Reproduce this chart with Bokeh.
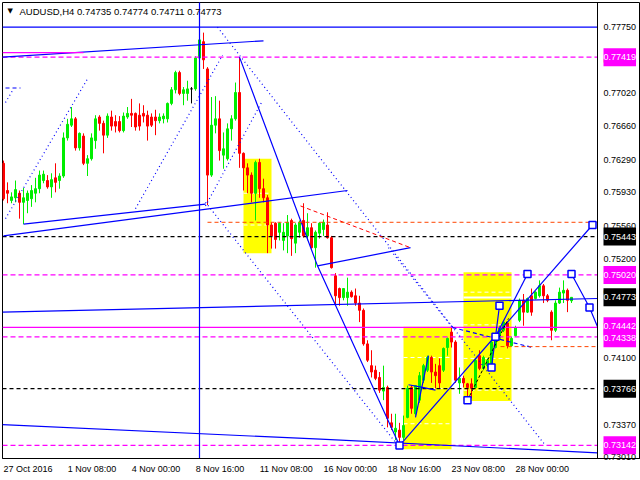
from bokeh.plotting import figure
from bokeh.models import Range1d, FixedTicker, NumeralTickFormatter, Span, Label
from bokeh.embed import file_html
from bokeh.resources import INLINE

# ---------------- data ----------------
open_ = [0.7625,0.7595,0.7584,0.7587,0.7592,0.7582,0.7584,0.7586,0.7592,0.7597,
         0.7606,0.7606,0.7599,0.7609,0.7606,0.7611,0.7653,0.7667,0.7674,0.7642,
         0.7655,0.7625,0.7630,0.7650,0.7676,0.7669,0.7656,0.7676,0.7671,0.7671,
         0.7661,0.7676,0.7680,0.7680,0.7678,0.7680,0.7678,0.7676,0.7676,0.7672,
         0.7674,0.7674,0.7691,0.7706,0.7725,0.7702,0.7702,0.7707,0.7707,0.7741,
         0.7759,0.7729,0.7612,0.7667,0.7674,0.7634,0.7630,0.7663,0.7674,0.7703,
         0.7636,0.7620,0.7612,0.7592,0.7626,0.7597,0.7587,0.7557,0.7559,0.7549,
         0.7540,0.7545,0.7562,0.7537,0.7549,0.7562,0.7545,0.7554,0.7532,0.7548,
         0.7552,0.7557,0.7543,0.7501,0.7487,0.7477,0.7477,0.7483,0.7479,0.7471,
         0.7463,0.7426,0.7402,0.7397,0.7389,0.7374,0.7378,0.7339,0.7329,0.7331,
         0.7323,0.7345,0.7378,0.7349,0.7364,0.7386,0.7397,0.7411,0.7395,0.7402,
         0.7397,0.7422,0.7439,0.7428,0.7383,0.7388,0.7382,0.7382,0.7378,0.7413,
         0.7399,0.7402,0.7403,0.7422,0.7432,0.7441,0.7449,0.7424,0.7435,0.7452,
         0.7474,0.7461,0.7479,0.7476,0.7479,0.7490,0.7479,0.7461,0.7441,0.7471,
         0.7482,0.7485,0.74735]
high = [0.7628,0.7604,0.7593,0.7606,0.7595,0.7598,0.7595,0.7601,0.7609,0.7617,
        0.7617,0.7612,0.7614,0.7625,0.7614,0.7659,0.7674,0.7687,0.7676,0.7659,
        0.7658,0.7634,0.7658,0.7678,0.7678,0.7672,0.7680,0.7683,0.7678,0.7677,
        0.7681,0.7687,0.7696,0.7681,0.7691,0.7689,0.7683,0.7680,0.7684,0.7680,
        0.7680,0.7692,0.7709,0.7727,0.7727,0.7709,0.7716,0.7709,0.7743,0.7763,
        0.7769,0.7731,0.7698,0.7699,0.7694,0.7659,0.7669,0.7678,0.7714,0.7742,
        0.7637,0.7625,0.7615,0.7628,0.7630,0.7608,0.7590,0.7560,0.7560,0.7560,
        0.7559,0.7568,0.7564,0.7559,0.7562,0.7581,0.7570,0.7559,0.7551,0.7560,
        0.7563,0.7571,0.7545,0.7504,0.7488,0.7487,0.7499,0.7485,0.7487,0.7479,
        0.7465,0.7430,0.7419,0.7402,0.7395,0.7402,0.7380,0.7349,0.7349,0.7339,
        0.7347,0.7380,0.7380,0.7380,0.7395,0.7404,0.7413,0.7413,0.7404,0.7410,
        0.7422,0.7433,0.7444,0.7430,0.7400,0.7391,0.7383,0.7388,0.7410,0.7419,
        0.7413,0.7410,0.7430,0.7437,0.7446,0.7452,0.7450,0.7434,0.7446,0.7476,
        0.7481,0.7477,0.7487,0.7484,0.7496,0.7492,0.7481,0.7463,0.7474,0.7488,
        0.7496,0.7487,0.74774]
low = [0.7584,0.7581,0.7581,0.7582,0.7564,0.7558,0.7570,0.7577,0.7582,0.7592,
       0.7603,0.7597,0.7587,0.7593,0.7597,0.7609,0.7650,0.7665,0.7639,0.7639,
       0.7623,0.7611,0.7628,0.7641,0.7661,0.7636,0.7653,0.7661,0.7659,0.7659,
       0.7659,0.7674,0.7665,0.7661,0.7661,0.7670,0.7650,0.7665,0.7656,0.7669,
       0.7669,0.7670,0.7689,0.7702,0.7700,0.7689,0.7694,0.7691,0.7705,0.7738,
       0.7729,0.7579,0.7610,0.7658,0.7628,0.7619,0.7628,0.7650,0.7672,0.7620,
       0.7595,0.7592,0.7582,0.7562,0.7587,0.7582,0.7526,0.7531,0.7531,0.7540,
       0.7529,0.7526,0.7523,0.7526,0.7543,0.7543,0.7540,0.7531,0.7510,0.7542,
       0.7545,0.7542,0.7509,0.7468,0.7468,0.7474,0.7468,0.7477,0.7468,0.7450,
       0.7424,0.7406,0.7389,0.7386,0.7372,0.7364,0.7334,0.7331,0.7320,0.7314,
       0.7320,0.7344,0.7349,0.7347,0.7361,0.7383,0.7395,0.7383,0.7377,0.7377,
       0.7395,0.7413,0.7422,0.7383,0.7371,0.7378,0.7364,0.7366,0.7377,0.7397,
       0.7397,0.7400,0.7400,0.7421,0.7430,0.7439,0.7421,0.7423,0.7434,0.7450,
       0.7446,0.7460,0.7457,0.7475,0.7477,0.7471,0.7472,0.7430,0.7439,0.7470,
       0.7471,0.7461,0.74711]
close = [0.7586,0.7592,0.7588,0.7596,0.7582,0.7587,0.7592,0.7595,0.7597,0.7612,
         0.7613,0.7599,0.7607,0.7604,0.7611,0.7653,0.7668,0.7674,0.7642,0.7658,
         0.7625,0.7630,0.7653,0.7674,0.7669,0.7656,0.7677,0.7666,0.7666,0.7661,
         0.7677,0.7680,0.7678,0.7665,0.7666,0.7677,0.7666,0.7667,0.7672,0.7676,
         0.7677,0.7691,0.7706,0.7725,0.7702,0.7706,0.7707,0.7707,0.7741,0.7761,
         0.7739,0.7612,0.7667,0.7674,0.7639,0.7641,0.7663,0.7674,0.7703,0.7636,
         0.7620,0.7612,0.7592,0.7626,0.7597,0.7587,0.7557,0.7545,0.7541,0.7559,
         0.7549,0.7560,0.7542,0.7557,0.7560,0.7545,0.7554,0.7532,0.7549,0.7559,
         0.7560,0.7543,0.7510,0.7479,0.7477,0.7487,0.7483,0.7478,0.7471,0.7463,
         0.7426,0.7408,0.7395,0.7388,0.7375,0.7378,0.7344,0.7334,0.7333,0.7323,
         0.7336,0.7377,0.7355,0.7380,0.7391,0.7402,0.7411,0.7395,0.7391,0.7383,
         0.7421,0.7432,0.7428,0.7386,0.7388,0.7383,0.7378,0.7377,0.7408,0.7399,
         0.7411,0.7408,0.7428,0.7435,0.7444,0.7450,0.7424,0.7432,0.7444,0.7474,
         0.7461,0.7476,0.7461,0.7483,0.7490,0.7479,0.7474,0.7441,0.7471,0.7483,
         0.7485,0.7474,0.74773]

price_ticks = [0.77750, 0.77380, 0.77020, 0.76660, 0.76290, 0.75930, 0.75560,
               0.75200, 0.74830, 0.74470, 0.74100, 0.73740, 0.73370, 0.73010]
date_ticks = [0, 16, 32, 48, 64, 80, 96, 112, 128]
date_labels = ["27 Oct 2016", "1 Nov 08:00", "4 Nov 00:00", "8 Nov 16:00", "11 Nov 08:00",
               "16 Nov 00:00", "18 Nov 16:00", "23 Nov 08:00", "28 Nov 00:00"]
last_bar_edge = 148.5   # right border of the candle area (price scale starts here)

# horizontal levels (price, colour, dash)
levels = [(0.77750, "#0000FF", "solid"), (0.77419, "#FF00FF", "5 3"),
          (0.75443, "#000000", "4 3"), (0.75020, "#FF00FF", "5 3"),
          (0.74442, "#FF00FF", "solid"), (0.74338, "#FF00FF", "5 3"),
          (0.73766, "#000000", "4 3"), (0.73142, "#FF00FF", "5 3")]
# price tags on the scale (price, colour, vertical nudge in px so close tags stay readable)
tags = [(0.77419, "#FF00FF", 0), (0.75443, "#000000", 0), (0.75020, "#FF00FF", 0),
        (0.74773, "#000000", 0), (0.74442, "#FF00FF", 1), (0.74338, "#FF00FF", -1.5),
        (0.73766, "#000000", 0), (0.73142, "#FF00FF", 0)]
vline_bar = 49

# drawing objects: (bar index list, price list)
solid_blue = [
    ([vline_bar, vline_bar], [0.7290, 0.7810]),
    ([-0.25, 65], [0.7742, 0.7760]),
    ([0, 86], [0.7545, 0.7595]),
    ([5, 50.5], [0.7558, 0.7580]),
    ([59, 78.5, 99], [0.7742, 0.7512, 0.7314]),
    ([78.5, 101.75], [0.7512, 0.7532]),
    ([99, 147.25], [0.7314, 0.7557]),
    ([-0.25, 148.5], [0.7461, 0.7476]),
    ([-0.25, 79.25, 148.5], [0.7337, 0.7321, 0.7306]),
    ([122, 123, 124], [0.7400, 0.7434, 0.7468]),
    ([123, 131], [0.7434, 0.7503]),
    ([142, 146.5, 148.5], [0.7503, 0.7466, 0.7445]),
    ([101.25, 104.75, 108], [0.7381, 0.7378, 0.7375]),
    ([103, 106.25], [0.7345, 0.7413]),
]
dotted_blue = [
    ([53.5, 135.5], [0.7775, 0.7314]),
    ([50.5, 99], [0.7582, 0.7312]),
    ([0.5, 21], [0.7564, 0.7718]),
    ([33, 54.75], [0.7575, 0.7744]),
    ([50.5, 64.75], [0.7578, 0.7694]),
    ([0.5, 2.5], [0.7692, 0.7707]),
    ([96.25, 112.25], [0.7532, 0.7444]),
]
dashed_blue = [
    ([112.25, 132.25], [0.7444, 0.7422]),
    ([0.5, 4.25], [0.7708, 0.7708]),
]
red_dashed = [([74.25, 101.75], [0.7578, 0.7532])]
orange_dashed = [([51, 148.5], [0.7560, 0.7560]), ([124.25, 148.5], [0.7423, 0.7423])]
black_dashed = [([116, 126.25], [0.7364, 0.7454])]
magenta_solid = [([-0.25, 20], [0.7747, 0.7747])]

boxes_left = [60, 100, 115]
boxes_right = [67, 112, 127]
boxes_top = [0.7630, 0.7445, 0.7505]
boxes_bottom = [0.7526, 0.7310, 0.7363]
box_levels = [[0.7592, 0.7557], [0.7411, 0.7377, 0.7338], [0.7483, 0.7447, 0.7410, 0.7375]]

pivot_x = [99, 116, 122, 123, 124, 131, 142, 146.5, 147.25]
pivot_y = [0.7314, 0.7364, 0.7400, 0.7434, 0.7468, 0.7503, 0.7503, 0.7466, 0.7557]

FONT = "Liberation Sans"

# ---------------- figure ----------------
p = figure(width=640, height=480, output_backend="svg", toolbar_location=None,
           x_range=Range1d(-0.25, 159.25), y_range=Range1d(0.72997, 0.78022),
           y_axis_location="right", min_border_left=2, min_border_top=2,
           min_border_right=0, min_border_bottom=22)
p.grid.visible = False
p.outline_line_color = "black"
p.outline_line_width = 1
p.background_fill_color = "white"
p.border_fill_color = "white"

ya = p.yaxis[0]
ya.axis_label = None
ya.ticker = FixedTicker(ticks=price_ticks)
ya.formatter = NumeralTickFormatter(format="0.00000")
ya.major_label_text_font = FONT
ya.major_label_text_font_size = "9px"
ya.major_label_text_color = "black"
ya.major_tick_out = 0
ya.major_tick_in = 0
ya.minor_tick_out = 0
ya.minor_tick_in = 0
ya.major_label_standoff = -37
ya.axis_line_color = None

# date labels start at their bar (MT4 style): the centred axis label is placed
# half a label width to the right of its bar
label_pos = [round(t + len(s) * 0.557, 2) for t, s in zip(date_ticks, date_labels)]
xa = p.xaxis[0]
xa.axis_label = None
xa.ticker = FixedTicker(ticks=label_pos)
xa.major_label_overrides = {t: s for t, s in zip(label_pos, date_labels)}
xa.major_label_text_font = FONT
xa.major_label_text_font_size = "9px"
xa.major_label_text_color = "black"
xa.major_tick_out = 0
xa.major_tick_in = 0
xa.minor_tick_out = 0
xa.minor_tick_in = 0
xa.major_label_standoff = 5
xa.axis_line_color = "black"

# yellow boxes
p.quad(left=boxes_left, right=boxes_right, top=boxes_top, bottom=boxes_bottom,
       fill_color="#FFFF00", line_color=None)
for l, r, lv in zip(boxes_left, boxes_right, box_levels):
    for v in lv:
        p.line([l, r], [v, v], line_color="white", line_width=1, line_dash="4 3")
p.line([115, 127], [0.7477, 0.7477], line_color="white", line_width=2)

# candles
idx = list(range(len(close)))
cols = []
for o, c in zip(open_, close):
    if c > o:
        cols.append("#00EE00")
    elif c < o:
        cols.append("#FF0000")
    else:
        cols.append("#000000")
p.segment(x0=idx, y0=low, x1=idx, y1=high, line_color=cols, line_width=1)
p.vbar(x=idx, width=0.5, top=[max(o, c) for o, c in zip(open_, close)],
       bottom=[min(o, c) for o, c in zip(open_, close)],
       fill_color=cols, line_color=cols, line_width=1)

# horizontal levels
for lv, col, dash in levels:
    p.line([-0.25, last_bar_edge], [lv, lv], line_color=col, line_width=1.2, line_dash=dash)

def draw(lines, color, dash, width=1.2):
    for xs, ys in lines:
        p.line(xs, ys, line_color=color, line_width=width, line_dash=dash)

draw(solid_blue, "#0000FF", "solid")
draw(dotted_blue, "#0000FF", "1 3")
draw(dashed_blue, "#0000FF", "4 3")
draw(red_dashed, "#FF0000", "4 3", 1.0)
draw(orange_dashed, "#FF4500", "4 3", 1.0)
draw(black_dashed, "#000000", "3 2", 1.0)
draw(magenta_solid, "#FF00FF", "solid")

p.scatter(pivot_x, pivot_y, marker="square", size=7, fill_color="white",
          line_color="#0000FF", line_width=1.5)

# border between candle area and price scale
p.add_layout(Span(location=last_bar_edge, dimension="height", line_color="black", line_width=1))

# price tags on the scale
for v, col, dy in tags:
    p.add_layout(Label(x=last_bar_edge, y=v, text=f"{v:.5f}", text_font=FONT,
                       text_font_size="9px", text_color="white",
                       text_baseline="middle", text_align="left",
                       x_offset=6, y_offset=dy, background_fill_color=col,
                       padding=(0, 6)))

# header
p.add_layout(Label(x=1.0, y=0.77925, text="\u25BC", text_font="DejaVu Sans",
                   text_font_size="7px", text_color="black", text_baseline="middle"))
p.add_layout(Label(x=4.0, y=0.77928, text="AUDUSD,H4  0.74735 0.74774 0.74711 0.74773",
                   text_font=FONT, text_font_size="9.5px", text_color="black",
                   text_baseline="middle"))

open("out.html", "w").write(file_html(p, INLINE))
